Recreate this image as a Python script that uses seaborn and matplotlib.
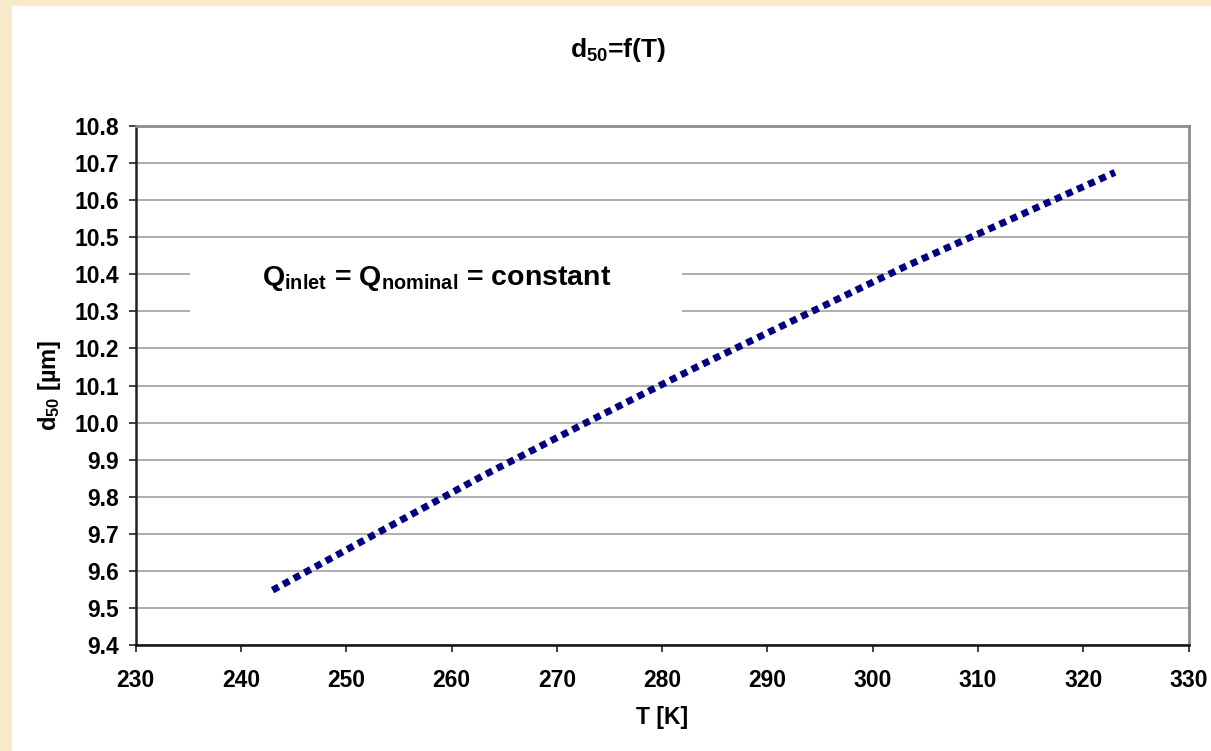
import matplotlib
matplotlib.use("Agg")
import matplotlib.pyplot as plt
from matplotlib.patches import Rectangle
import seaborn as sns
import pandas as pd

# Particle cut size d50 versus gas temperature
temperature_K = [243, 253, 263, 273, 283, 293, 303, 313, 323]
d50_um = [9.548, 9.703, 9.857, 10.003, 10.146, 10.283, 10.420, 10.547, 10.675]

x_ticks = [230, 240, 250, 260, 270, 280, 290, 300, 310, 320, 330]
y_ticks = [9.4, 9.5, 9.6, 9.7, 9.8, 9.9, 10.0, 10.1, 10.2, 10.3, 10.4, 10.5, 10.6, 10.7, 10.8]

title_text = "d$_{50}$=f(T)"
x_label = "T [K]"
y_label = "d$_{50}$ [µm]"
note_text = "Q$_{inlet}$ = Q$_{nominal}$ = constant"

df = pd.DataFrame({"T": temperature_K, "d50": d50_um})

sns.set_theme(style="ticks")
plt.rcParams["font.family"] = ["Liberation Sans", "DejaVu Sans"]
plt.rcParams["font.weight"] = "bold"
plt.rcParams["text.color"] = "black"
plt.rcParams["axes.labelcolor"] = "black"
plt.rcParams["xtick.labelcolor"] = "black"
plt.rcParams["ytick.labelcolor"] = "black"
plt.rcParams["mathtext.fontset"] = "custom"
plt.rcParams["mathtext.rm"] = "Liberation Sans:bold"
plt.rcParams["mathtext.it"] = "Liberation Sans:bold"
plt.rcParams["mathtext.bf"] = "Liberation Sans:bold"
plt.rcParams["mathtext.default"] = "bf"

bg = "#F8EACB"
fig = plt.figure(figsize=(12.11, 7.51), dpi=100, facecolor=bg)
# white chart panel on the beige slide background
fig.patches.append(Rectangle((12 / 1211, 0), 1 - 12 / 1211, 1 - 6 / 751,
                             transform=fig.transFigure, facecolor="white",
                             edgecolor="none", zorder=-5))

ax = fig.add_axes([0.112, 0.1411, 0.9816 - 0.112, 0.8322 - 0.1411])
ax.set_zorder(2)
ax.set_facecolor("white")

sns.lineplot(data=df, x="T", y="d50", ax=ax, color="#000080", linewidth=5,
             linestyle=(0, (1, 0.75)), dash_capstyle="butt", zorder=4)

ax.set_xlim(230, 330)
ax.set_ylim(9.4, 10.8)
ax.set_xticks(x_ticks)
ax.set_yticks(y_ticks)
ax.set_xticklabels([str(v) for v in x_ticks])
ax.set_yticklabels([f"{v:.1f}" for v in y_ticks])

ax.grid(axis="y", color="#a8a8a8", linewidth=1.3, zorder=1)
ax.set_axisbelow(True)

for side in ["top", "right"]:
    ax.spines[side].set_visible(True)
    ax.spines[side].set_color("#8c8c8c")
    ax.spines[side].set_linewidth(2)
ax.spines["left"].set_color("#222222")
ax.spines["left"].set_linewidth(1.8)
ax.spines["bottom"].set_color("#111111")
ax.spines["bottom"].set_linewidth(1.8)

ax.tick_params(axis="y", direction="out", length=5, width=1.2, color="#222222",
               pad=7, labelsize=16.5)
ax.tick_params(axis="x", direction="out", length=5, width=1.2, color="#222222",
               pad=12, labelsize=16.5)
for lab in ax.get_xticklabels() + ax.get_yticklabels():
    lab.set_fontweight("bold")

ax.set_xlabel(x_label, fontsize=16.5, fontweight="bold", labelpad=10)
ax.set_ylabel(y_label, fontsize=17, fontweight="bold", labelpad=8)

fig.text(0.51, 1 - 50 / 751, title_text, ha="center", va="center",
         fontsize=19, fontweight="bold")

# white label panel covering the gridlines behind the annotation
ax.add_patch(Rectangle((235.2, 10.26), 281.9 - 235.2, 10.46 - 10.26,
                       facecolor="white", edgecolor="none", zorder=2))
ax.text(258.6, 10.39, note_text, ha="center", va="center", fontsize=20.5,
        fontweight="bold", zorder=3)

fig.savefig("out.png", dpi=100, facecolor=bg)
